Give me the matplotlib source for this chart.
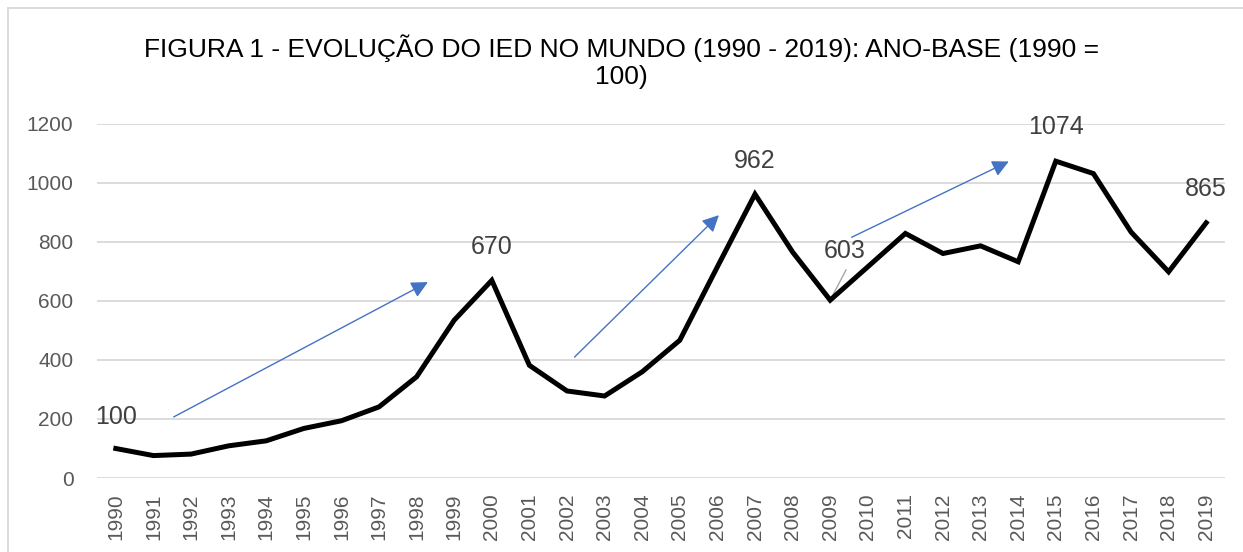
import matplotlib
matplotlib.use("Agg")
import matplotlib.pyplot as plt
from matplotlib.lines import Line2D

years = [str(y) for y in range(1990, 2020)]
values = [100, 76, 81, 109, 126, 168, 194, 241, 343, 535, 670, 382, 295, 278, 360,
          467, 716, 962, 766, 603, 716, 829, 761, 787, 733, 1074, 1032, 834, 699, 865]
yticks = [0, 200, 400, 600, 800, 1000, 1200]
labels = {0: "100", 10: "670", 17: "962", 19: "603", 25: "1074", 29: "865"}
title = "FIGURA 1 - EVOLUÇÃO DO IED NO MUNDO (1990 - 2019): ANO-BASE (1990 =\n100)"

plt.rcParams['font.family'] = ['Liberation Sans', 'DejaVu Sans']

fig = plt.figure(figsize=(12.43, 5.52), dpi=100)
ax = fig.add_axes([97/1243, 1-478/552, (1225-97)/1243, (478-124)/552])

x = list(range(len(years)))
ax.plot(x, values, color='black', lw=3.6, solid_joinstyle='miter', zorder=3, clip_on=False)

ax.set_xlim(-0.5, len(years) - 0.5)
ax.set_ylim(0, 1200)
ax.set_yticks(yticks)
ax.set_xticks(x)
ax.set_xticklabels(years, rotation=90)
ax.grid(axis='y', color='#D9D9D9', lw=1.3)
ax.set_axisbelow(True)
for s in ax.spines.values():
    s.set_visible(False)
ax.tick_params(axis='both', length=0, labelsize=15, labelcolor='#595959')
ax.tick_params(axis='x', pad=11)
ax.tick_params(axis='y', pad=17)

# data labels
lab_pos = {0: (0, 207), 10: (10, 782), 17: (17, 1073), 19: (19.39, 769), 25: (25, 1189), 29: (29, 979)}
for i, txt in labels.items():
    px, py = lab_pos[i]
    ax.text(px, py, txt, ha='center', va='center', fontsize=18, color='#404040',
            clip_on=False, zorder=4)
# leader line for 603
ax.plot([19, 19.42], [603, 705], color='#A6A6A6', lw=1, zorder=2, clip_on=False)

# trend arrows
arrows = [((1.54, 207), (8.3, 664)), ((12.2, 410), (16.04, 891)), ((19.57, 816), (23.75, 1073))]
for (x0, y0), (x1, y1) in arrows:
    ax.annotate('', xy=(x1, y1), xytext=(x0, y0),
                arrowprops=dict(arrowstyle='-|>,head_length=1.0,head_width=0.5',
                                color='#4472C4', lw=1, shrinkA=0, shrinkB=0),
                annotation_clip=False, zorder=4)

fig.text(0.5, 1-62/552, title, ha='center', va='center', fontsize=19, color='black',
         linespacing=1.15)

# chart border
fig.add_artist(Line2D([8/1243, 1.01], [1-8/552, 1-8/552], color='#D9D9D9', lw=1.3,
                      transform=fig.transFigure))
fig.add_artist(Line2D([8/1243, 8/1243], [-0.01, 1-8/552], color='#D9D9D9', lw=1.3,
                      transform=fig.transFigure))

fig.savefig('out.png', dpi=100)
